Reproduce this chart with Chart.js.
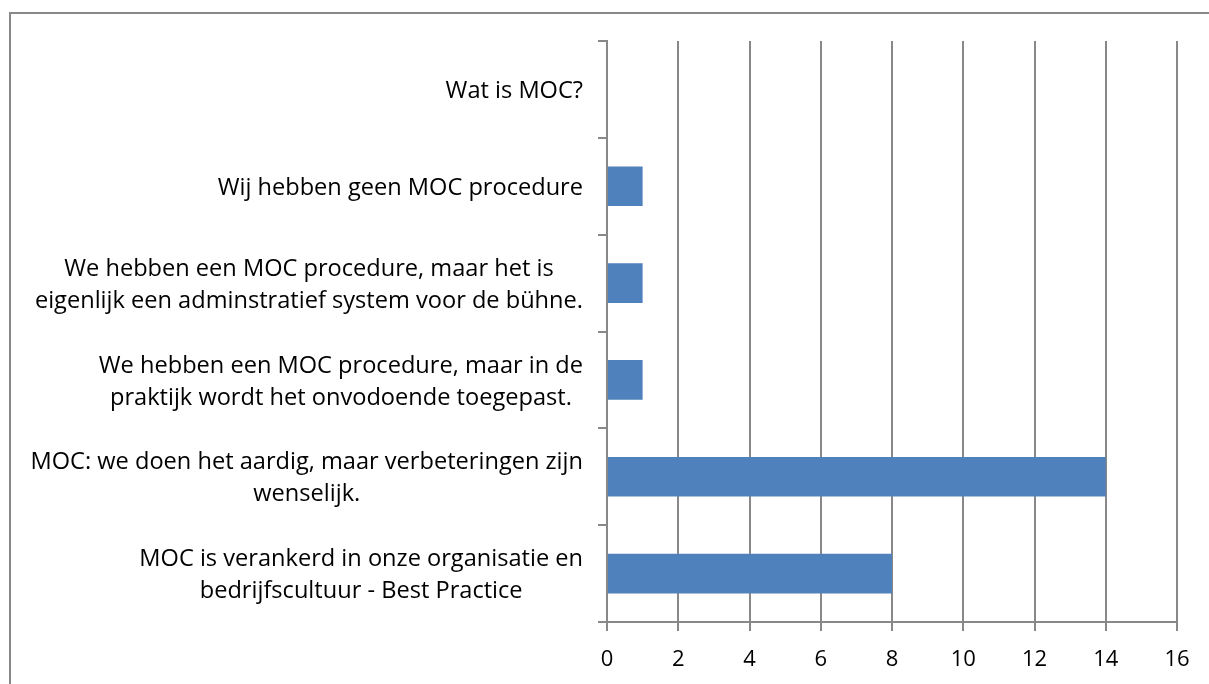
<!DOCTYPE html>
<html>
    <head>
        <meta charset="utf-8">
        <title>MOC chart</title>
        <script src="https://cdn.jsdelivr.net/npm/chart.js@4.4.1"></script>
        <style>
            html, body {
                margin: 0;
                padding: 0;
                background: #fff;
                overflow: hidden;
            }
            #container {
                position: relative;
                width: 1209px;
                height: 684px;
            }
            #frame {
                position: absolute;
                left: 9px;
                top: 12px;
                width: 1300px;
                height: 800px;
                border: 2px solid #888;
                box-sizing: border-box;
                pointer-events: none;
            }
        </style>
    </head>
    <body>
        <div id="container">
            <canvas id="vis" width="1209" height="684"></canvas>
            <div id="frame"></div>
        </div>
        <script>
            const categories = [
                ['Wat is MOC?'],
                ['Wij hebben geen MOC procedure'],
                ['We hebben een MOC procedure, maar het is', 'eigenlijk een adminstratief system voor de bühne.'],
                ['We hebben een MOC procedure, maar in de', 'praktijk wordt het onvodoende toegepast.'],
                ['MOC: we doen het aardig, maar verbeteringen zijn', 'wenselijk.'],
                ['MOC is verankerd in onze organisatie en', 'bedrijfscultuur - Best Practice']
            ];
            const counts = [0, 1, 1, 1, 14, 8];
            const xTicks = [0, 2, 4, 6, 8, 10, 12, 14, 16];

            const fontFamily = "'Open Sans', sans-serif";
            const fontSize = 23.6;

            // labels right-aligned as a block, lines centred inside it
            const blockLabels = {
                id: 'blockLabels',
                afterDraw(chart) {
                    const scale = chart.scales.y;
                    const ctx = chart.ctx;
                    const rightEdge = 583;
                    const lineHeight = 32;
                    ctx.save();
                    ctx.font = `${fontSize}px ${fontFamily}`;
                    ctx.fillStyle = '#000';
                    ctx.textAlign = 'center';
                    ctx.textBaseline = 'middle';
                    categories.forEach((lines, i) => {
                        const y = scale.getPixelForTick(i) + 2;
                        const w = Math.max(...lines.map(l => ctx.measureText(l).width));
                        const cx = rightEdge - w / 2;
                        const y0 = y - (lines.length - 1) * lineHeight / 2;
                        lines.forEach((l, j) => ctx.fillText(l, cx, y0 + j * lineHeight));
                    });
                    ctx.restore();
                }
            };

            new Chart(document.getElementById('vis'), {
                type: 'bar',
                data: {
                    labels: categories.map(c => c.join(' ')),
                    datasets: [{
                        data: counts,
                        backgroundColor: '#4F81BD',
                        borderWidth: 0,
                        categoryPercentage: 1,
                        barPercentage: 0.41
                    }]
                },
                options: {
                    indexAxis: 'y',
                    responsive: false,
                    animation: false,
                    layout: {
                        padding: { top: 41, right: 32, left: 0, bottom: 0 }
                    },
                    plugins: {
                        legend: { display: false },
                        tooltip: { enabled: false }
                    },
                    scales: {
                        x: {
                            min: 0,
                            max: 16,
                            afterBuildTicks: s => { s.ticks = xTicks.map(v => ({ value: v })); },
                            afterFit: s => { s.height = 62; },
                            grid: {
                                color: '#888',
                                lineWidth: 2,
                                tickLength: 9,
                                drawTicks: true
                            },
                            border: { color: '#888', width: 2 },
                            ticks: {
                                color: '#000',
                                padding: 16,
                                font: { family: fontFamily, size: 22 }
                            }
                        },
                        y: {
                            afterFit: s => { s.width = 607; },
                            grid: {
                                drawOnChartArea: false,
                                color: '#888',
                                lineWidth: 2,
                                tickLength: 9
                            },
                            border: { color: '#888', width: 2 },
                            ticks: { display: false }
                        }
                    }
                },
                plugins: [blockLabels]
            });
        </script>
    </body>
</html>
